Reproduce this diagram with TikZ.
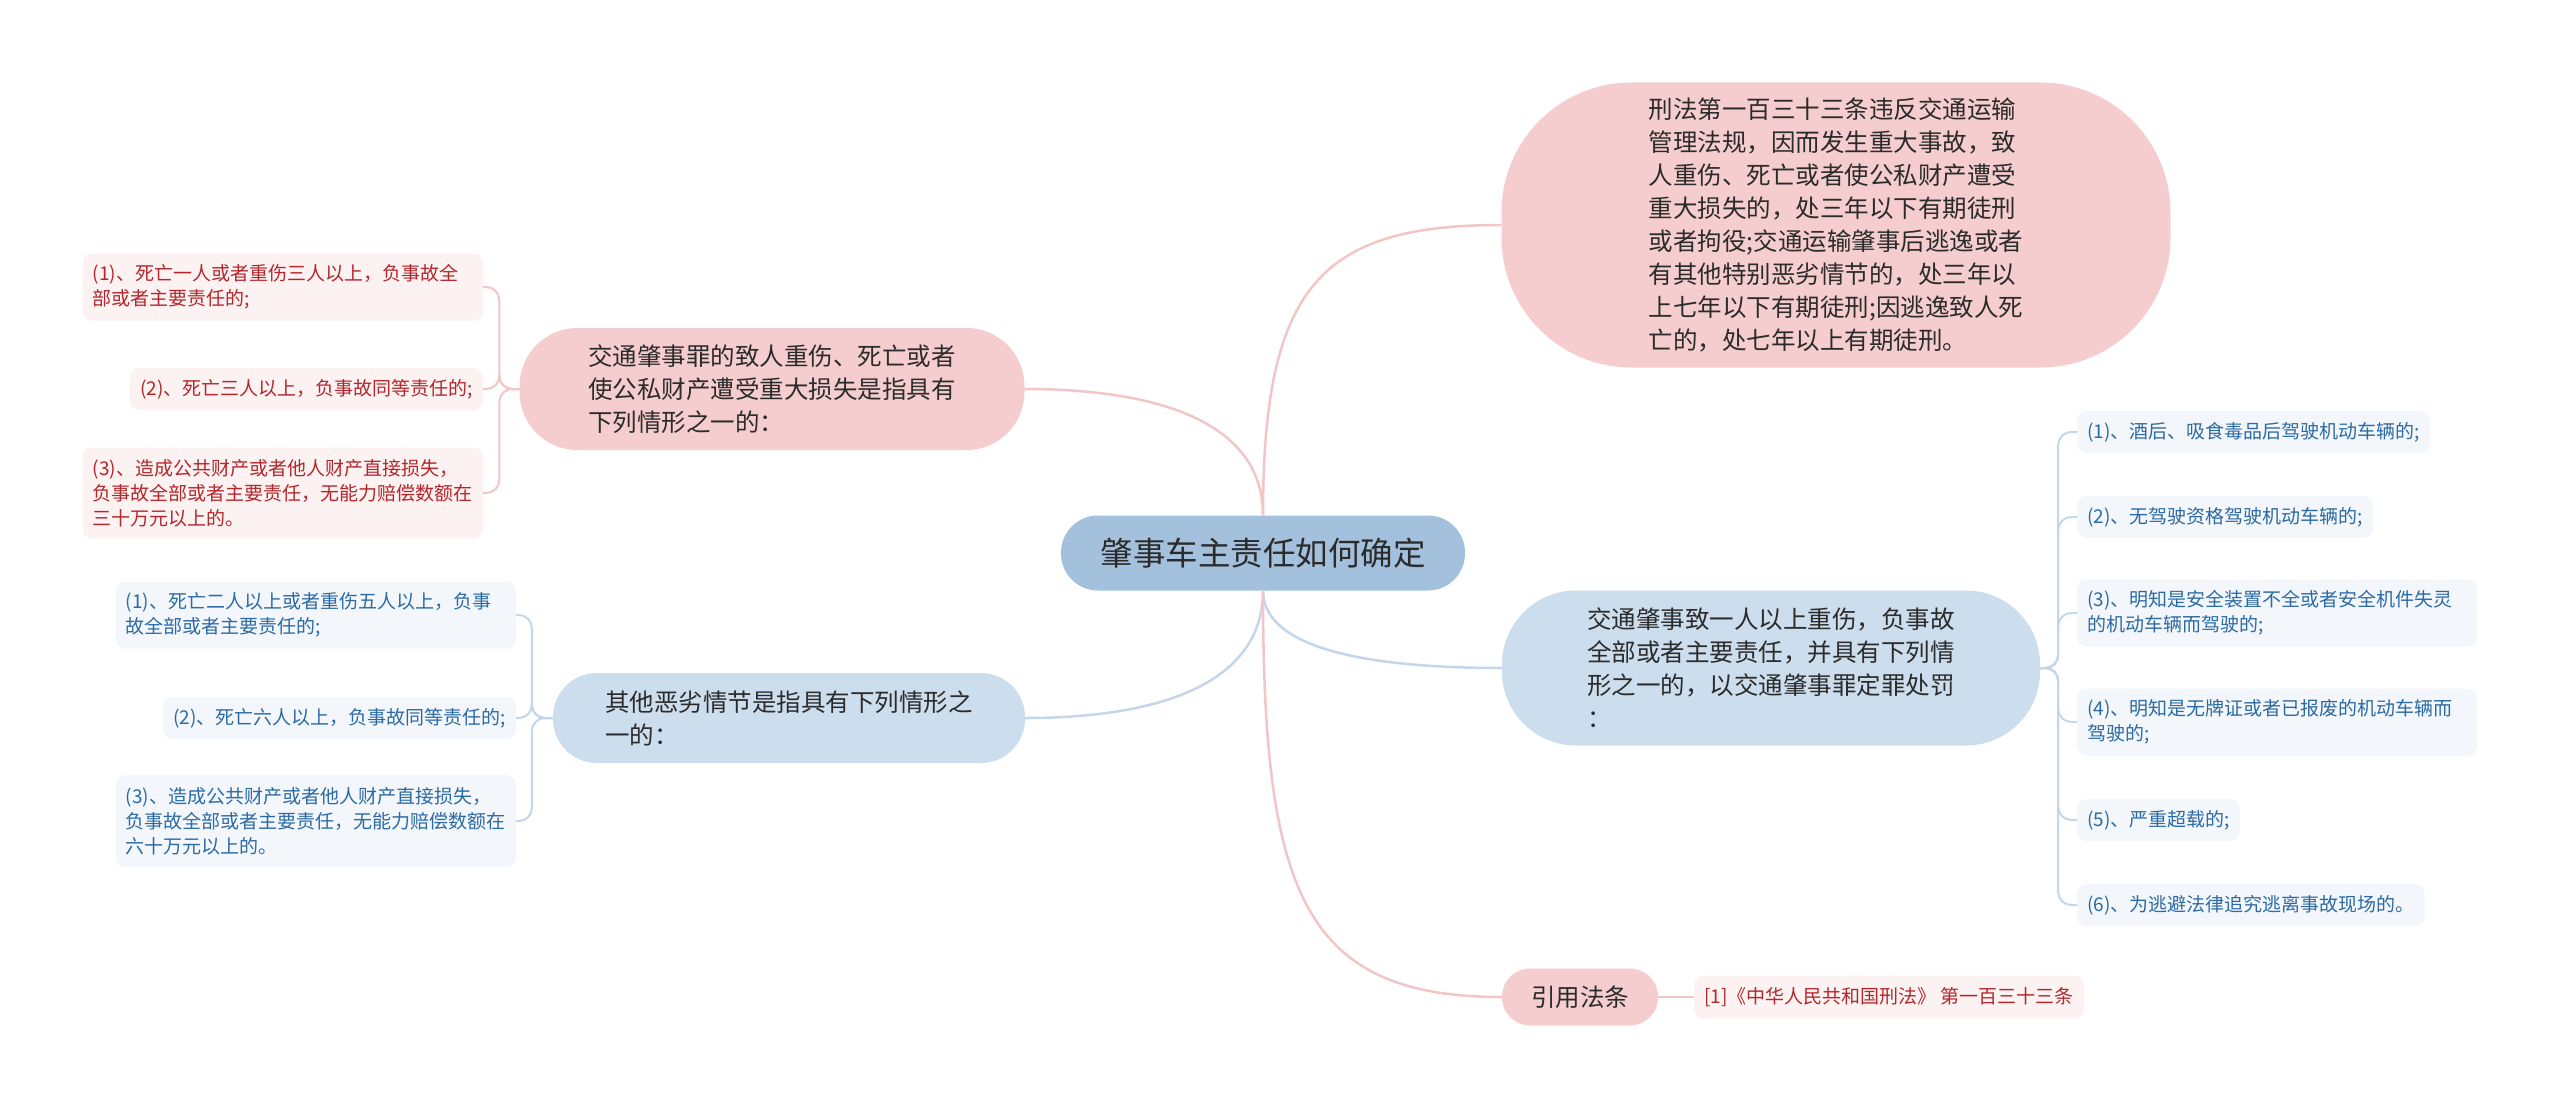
\documentclass[tikz,border=0pt]{standalone}
\usepackage{fontspec}
\setmainfont{Noto Sans CJK SC}
\definecolor{topicblue}{HTML}{A3C0DC}
\definecolor{branchpink}{HTML}{F5CDCE}
\definecolor{branchblue}{HTML}{CCDDED}
\definecolor{leafpinkbg}{HTML}{FDF2F2}
\definecolor{leafbluebg}{HTML}{F3F7FC}
\definecolor{leafred}{HTML}{B3272C}
\definecolor{leafbluetext}{HTML}{2C6AA3}
\definecolor{linkpinkc}{HTML}{F2C6C7}
\definecolor{linkbluec}{HTML}{C3D6EA}
\definecolor{maintext}{HTML}{2B2B2B}
\begin{document}
\begin{tikzpicture}[x=1pt, y=-1pt,
  topic/.style={fill=topicblue, text=maintext, inner sep=0pt, rounded corners=37pt,
    minimum width=404pt, minimum height=75pt, font=\fontsize{32.5}{40}\selectfont},
  branch/.style={text=maintext, inner sep=0pt, align=left, font=\fontsize{24.5}{33}\selectfont},
  leaf/.style={inner xsep=10pt, inner ysep=0pt, rounded corners=9pt, align=left,
    minimum height=42pt, font=\fontsize{19}{25}\selectfont},
  leafred/.style={leaf, fill=leafpinkbg, text=leafred},
  leafblue/.style={leaf, fill=leafbluebg, text=leafbluetext},
  wide/.style={text width=380pt, inner xsep=10pt},
  linkpink/.style={draw=linkpinkc, line width=2.5pt},
  linkblue/.style={draw=linkbluec, line width=2.5pt},
  spine/.style={line width=2pt, rounded corners=13pt}]

\useasboundingbox[fill=white] (0,0) rectangle (2560,1108);

% Hauptknoten
\node[topic] (ctr) at (1263,553) {肇事车主责任如何确定};

\node[branch, fill=branchpink, minimum width=669pt, minimum height=285pt, rounded corners=130pt] (law) at (1836,225)
  {刑法第一百三十三条违反交通运输\\管理法规，因而发生重大事故，致\\人重伤、死亡或者使公私财产遭受\\重大损失的，处三年以下有期徒刑\\或者拘役;交通运输肇事后逃逸或者\\有其他特别恶劣情节的，处三年以\\上七年以下有期徒刑;因逃逸致人死\\亡的，处七年以上有期徒刑。};
\node[branch, fill=branchpink, minimum width=505pt, minimum height=122pt, rounded corners=58pt] (harm) at (772,389)
  {交通肇事罪的致人重伤、死亡或者\\使公私财产遭受重大损失是指具有\\下列情形之一的：};
\node[branch, fill=branchblue, minimum width=472pt, minimum height=90pt, rounded corners=44pt] (other) at (789,718)
  {其他恶劣情节是指具有下列情形之\\一的：};
\node[branch, fill=branchblue, minimum width=538pt, minimum height=155pt, rounded corners=74pt] (injury) at (1771,668)
  {交通肇事致一人以上重伤，负事故\\全部或者主要责任，并具有下列情\\形之一的，以交通肇事罪定罪处罚\\：};
\node[branch, fill=branchpink, minimum width=156pt, minimum height=57pt, rounded corners=28pt] (cite) at (1580,997) {引用法条};

% Blaetter links oben
\node[leafred, wide, anchor=east, minimum height=67pt] (h1) at (483,287) {(1)、死亡一人或者重伤三人以上，负事故全\\部或者主要责任的;};
\node[leafred, anchor=east] (h2) at (483,389) {(2)、死亡三人以上，负事故同等责任的;};
\node[leafred, wide, anchor=east, minimum height=91pt] (h3) at (483,493) {(3)、造成公共财产或者他人财产直接损失，\\负事故全部或者主要责任，无能力赔偿数额在\\三十万元以上的。};

% Blaetter links unten
\node[leafblue, wide, anchor=east, minimum height=67pt] (o1) at (516,615) {(1)、死亡二人以上或者重伤五人以上，负事\\故全部或者主要责任的;};
\node[leafblue, anchor=east] (o2) at (516,718) {(2)、死亡六人以上，负事故同等责任的;};
\node[leafblue, wide, anchor=east, minimum height=92pt] (o3) at (516,821) {(3)、造成公共财产或者他人财产直接损失，\\负事故全部或者主要责任，无能力赔偿数额在\\六十万元以上的。};

% Blaetter rechts
\node[leafblue, anchor=west] (i1) at (2077,432) {(1)、酒后、吸食毒品后驾驶机动车辆的;};
\node[leafblue, anchor=west] (i2) at (2077,517) {(2)、无驾驶资格驾驶机动车辆的;};
\node[leafblue, wide, anchor=west, minimum height=67pt] (i3) at (2077,613) {(3)、明知是安全装置不全或者安全机件失灵\\的机动车辆而驾驶的;};
\node[leafblue, wide, anchor=west, minimum height=67pt] (i4) at (2077,722) {(4)、明知是无牌证或者已报废的机动车辆而\\驾驶的;};
\node[leafblue, anchor=west] (i5) at (2077,820) {(5)、严重超载的;};
\node[leafblue, anchor=west] (i6) at (2077,905) {(6)、为逃避法律追究逃离事故现场的。};

\node[leafred, anchor=west, minimum height=43pt] (citeleaf) at (1694,997) {[1]《中华人民共和国刑法》 第一百三十三条};

% Verbindungen
\draw[linkpink] (ctr.north) .. controls +(0,-230) and +(-180,0) .. (law.west);
\draw[linkpink] (ctr.north) .. controls +(0,-90) and +(140,0) .. (harm.east);
\draw[linkblue] (ctr.south) .. controls +(0,90) and +(140,0) .. (other.east);
\draw[linkblue] (ctr.south) .. controls +(0,50) and +(-160,0) .. (injury.west);
\draw[linkpink] (ctr.south) .. controls +(0,300) and +(-200,0) .. (cite.west);
\draw[linkpink] (cite.east) -- (citeleaf.west);

\foreach \leaf in {h1,h2,h3}
  \draw[linkpink, spine] (harm.west) -- ++(-20,0) |- (\leaf.east);
\foreach \leaf in {o1,o2,o3}
  \draw[linkblue, spine] (other.west) -- ++(-21,0) |- (\leaf.east);
\foreach \leaf in {i1,i2,i3,i4,i5,i6}
  \draw[linkblue, spine] (injury.east) -- ++(18,0) |- (\leaf.west);

\end{tikzpicture}
\end{document}
